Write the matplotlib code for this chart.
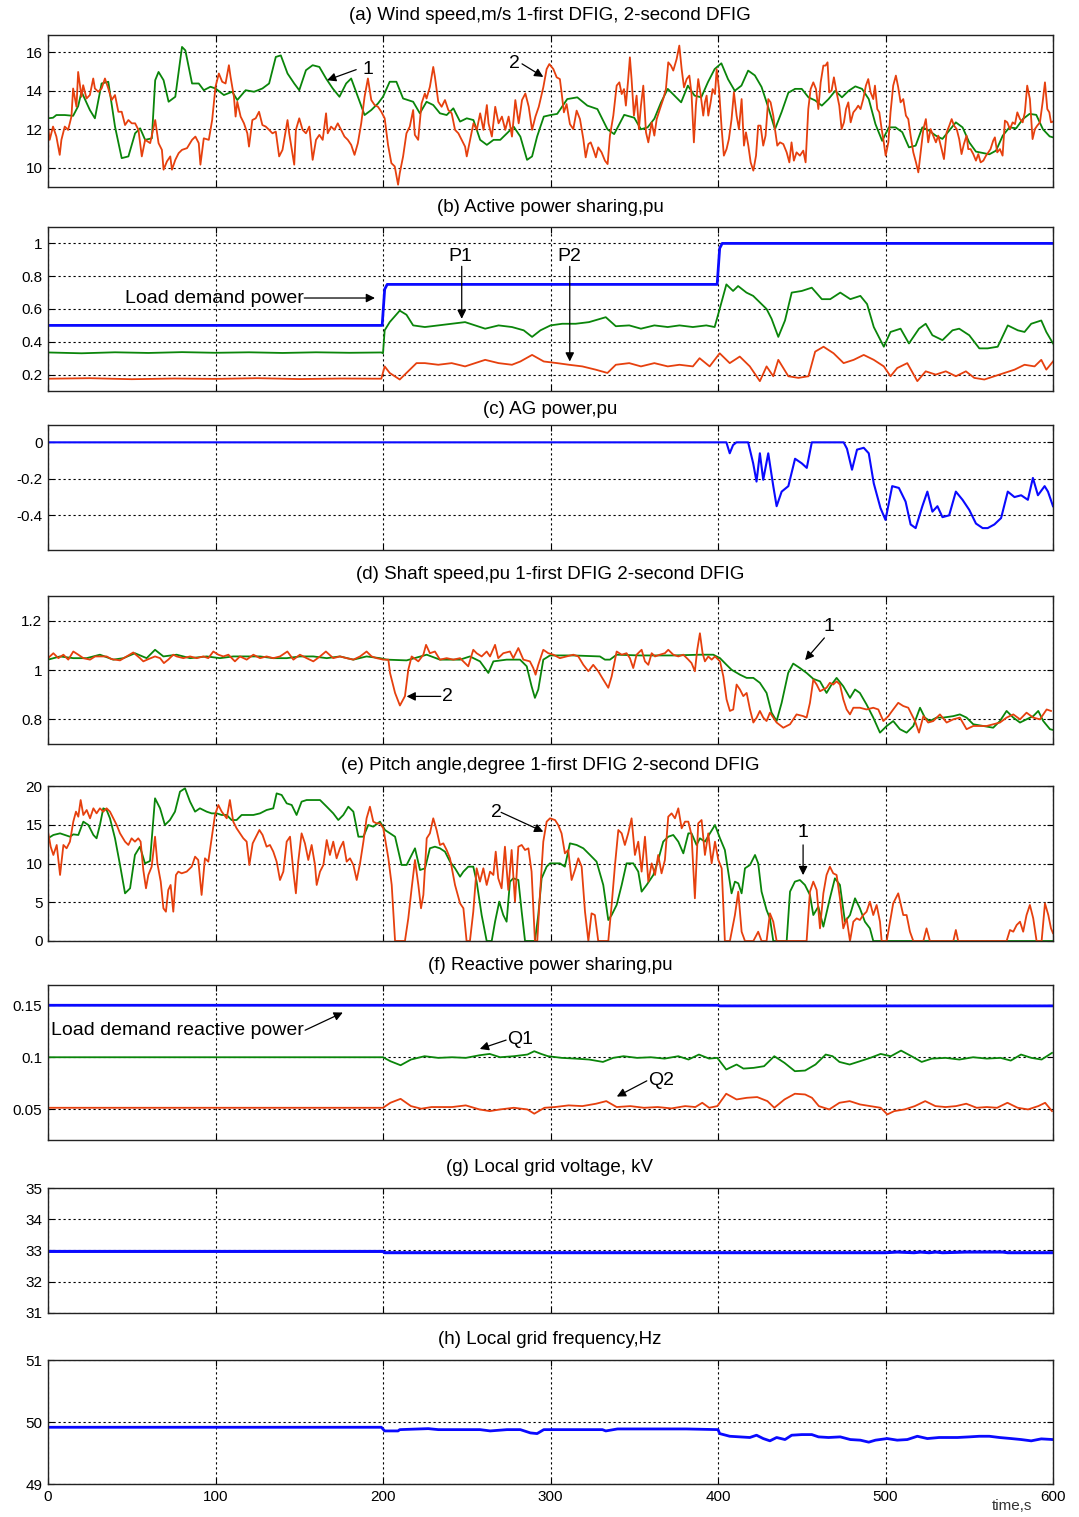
import matplotlib
matplotlib.use('Agg')
import matplotlib.pyplot as plt
import numpy as np

plt.rcParams['font.family'] = ['Liberation Sans', 'DejaVu Sans']

# ---------------- (a) wind speed ----------------
wind1_t = [0,3,5,10,15,18,20,25,28,32,36,40,44,48,52,55,58,62,64,66,69,72,76,80,82,86,90,93,97,100,
           105,110,113,118,123,128,132,136,139,143,147,150,154,158,162,166,170,174,178,181,185,189,193,197,200,
           204,208,212,218,222,226,230,234,238,242,246,250,254,258,262,266,270,274,278,282,286,289,292,296,300,
           304,310,316,322,328,334,338,344,350,354,358,362,366,370,374,378,382,386,390,394,398,402,406,410,414,
           418,422,426,430,434,438,442,446,450,454,458,462,466,470,474,478,482,486,490,494,498,502,506,510,514,
           518,522,526,530,534,538,542,546,550,554,558,562,566,570,574,578,582,586,590,594,598,600]
wind1_v = [12.57,12.6,12.74,12.74,12.7,13.2,13.95,13.0,12.57,14.38,14.47,12.14,10.5,10.59,11.79,12.05,11.45,11.53,14.55,14.98,
           14.55,13.43,13.69,16.28,16.1,14.38,14.38,14.03,14.21,14.12,
           13.78,13.95,13.52,14.03,13.95,14.12,14.38,15.76,15.84,14.9,14.38,14.03,15.07,15.33,15.24,14.64,14.12,13.69,14.38,14.64,
           13.69,12.74,13.0,13.34,13.69,
           14.47,14.47,13.6,13.43,12.83,13.43,13.26,12.83,12.74,13.09,12.4,12.57,12.48,11.45,11.19,11.45,11.45,11.79,12.14,11.62,
           10.41,10.59,11.62,12.66,12.74,
           12.8,13.57,13.66,13.23,13.05,12.0,11.75,12.75,12.6,12.0,12.1,12.55,13.4,14.1,13.75,13.4,14.27,13.75,13.66,14.45,
           15.13,15.43,14.6,14.0,14.27,
           15.05,14.8,14.2,13.14,12.0,12.9,13.9,14.1,14.1,13.66,13.5,13.23,13.57,14.0,13.66,14.0,14.23,14.1,13.57,12.27,
           11.4,12.1,12.1,11.85,11.06,
           11.15,12.1,11.93,11.67,11.5,11.93,12.36,12.1,11.32,10.84,10.77,10.7,10.89,11.67,12.1,12.05,12.53,12.8,12.75,12.0,
           11.63,11.58]

wind2_t = [0,1,3,5,7,8,10,12,14,15,17,18,20,21,23,25,27,28,30,32,34,36,38,40,42,44,46,48,50,52,54,56,58,61,64,66,68,69,
           71,73,74,76,78,80,83,86,88,90,91,93,96,98,100,102,104,106,108,109,111,112,113,115,117,119,120,122,124,126,128,
           130,132,134,136,138,140,143,144,147,148,150,152,154,156,158,160,162,164,166,167,169,171,173,175,177,179,181,
           183,185,187,189,191,193,195,197,199,201,203,205,207,209,210,212,214,216,218,219,221,223,225,226,228,230,231,
           233,235,237,239,241,243,245,247,249,250,252,254,256,258,260,262,263,265,267,269,271,273,275,277,279,281,283,
           285,287,289,291,293,
           295.7,297.7,299.3,301.7,303.7,305.6,306.6,308.0,309.6,311.6,313.6,315.6,317.6,319.6,321.0,322.6,324.0,325.5,
           327.1,328.5,330.5,332.5,334.1,335.5,337.5,339.5,341.1,342.5,343.9,345.0,346.4,347.4,348.4,349.8,351.4,352.8,
           354.0,355.4,357.0,358.4,360.4,362.0,363.4,365.3,367.3,368.9,370.3,371.9,373.3,375.3,376.9,378.3,379.7,381.3,
           382.9,384.2,385.6,386.8,388.2,389.6,391.2,392.2,393.2,394.2,395.6,396.8,398.2,399.2,400.6,402.2,403.5,405.1,
           406.5,408.1,409.5,411.1,412.5,414.1,415.5,416.7,418.1,419.5,421.1,422.7,424.0,425.4,427.0,428.4,430.0,431.4,
           433.0,434.0,435.4,437.0,439.0,441.0,442.6,443.9,445.3,446.9,448.9,450.9,452.3,453.9,455.3,456.9,458.5,459.9,
           461.3,462.9,464.2,465.4,466.4,467.8,469.2,470.8,472.4,473.8,475.2,476.4,477.8,479.2,480.8,482.4,483.7,485.1,
           486.7,488.3,489.7,491.1,492.7,493.7,495.1,496.3,497.7,498.7,500.1,501.7,503.0,504.6,506.2,507.6,509.0,510.6,
           512.2,513.6,515.0,516.6,518.2,519.6,521.0,522.6,524.1,525.5,526.9,528.5,530.1,531.5,533.5,534.9,536.5,538.1,
           539.5,540.9,542.5,544.0,545.4,546.8,548.4,549.4,550.8,552.4,554.0,555.4,556.8,558.4,560.0,561.4,562.7,564.3,
           565.3,566.7,568.3,569.9,571.3,572.7,574.3,575.9,577.3,578.7,580.3,581.9,583.2,584.6,586.2,587.8,589.2,590.6,
           592.2,593.8,595.2,596.6,597.8,598.8,600]
wind2_v = [12.14,11.45,12.14,11.62,10.67,11.45,12.14,11.97,12.66,14.12,13.17,14.98,13.69,14.29,13.6,13.78,14.64,14.12,13.95,
           14.12,14.64,14.12,13.52,13.78,12.91,12.91,12.22,12.48,12.31,12.31,11.97,10.59,11.45,11.28,12.48,11.28,10.93,9.9,
           10.33,10.59,9.9,10.41,10.76,10.93,11.02,11.45,11.62,11.28,10.16,11.53,11.45,12.48,14.21,14.9,14.47,14.38,15.33,
           14.72,13.69,12.66,13.43,12.66,12.31,11.79,11.1,12.48,12.57,12.91,12.22,12.14,11.97,11.79,11.88,10.59,10.93,12.48,
           11.79,10.16,11.97,12.57,11.97,11.79,12.14,10.41,11.45,11.71,11.45,12.83,11.79,12.14,11.97,12.31,11.97,11.62,11.45,
           11.19,10.67,11.28,12.31,13.69,14.64,13.52,13.26,13.17,12.91,12.57,11.19,10.24,10.07,9.12,9.72,10.59,11.79,12.14,
           13.0,11.71,11.45,13.34,13.86,13.6,14.21,15.24,14.72,13.43,13.17,13.52,13.0,12.83,11.97,11.79,11.45,11.1,10.59,
           11.45,12.31,11.97,12.83,11.97,13.26,12.31,11.62,13.17,12.31,12.66,11.97,12.66,11.62,13.52,12.31,13.52,13.86,13.17,
           11.97,12.66,13.17,
           14.18,15.13,15.39,15.13,14.70,14.61,13.92,12.88,13.31,12.27,12.01,12.97,12.53,11.49,10.54,11.23,11.32,10.97,
           10.54,11.06,10.80,10.37,10.19,11.67,12.71,14.27,14.44,13.83,14.09,13.23,14.61,15.74,14.61,12.71,13.75,12.01,
           13.23,14.27,11.84,11.32,12.36,11.67,12.53,13.05,13.57,14.09,15.48,15.31,15.05,15.65,16.35,15.13,14.18,14.61,
           14.79,13.83,11.32,13.23,14.61,13.83,12.71,13.40,13.75,12.71,13.40,14.09,13.83,15.13,14.09,12.01,10.63,10.97,
           11.49,12.53,13.92,12.71,12.01,13.57,11.15,11.84,11.15,10.28,9.85,10.63,12.19,12.19,11.15,11.67,13.57,13.40,
           12.71,12.01,11.15,11.32,11.23,10.80,10.28,11.32,10.37,10.80,10.63,10.89,10.28,13.05,14.09,14.44,14.09,13.05,
           14.44,15.31,15.31,15.48,13.92,14.01,14.70,13.92,13.23,12.01,12.36,13.05,13.40,12.36,12.88,13.05,13.23,13.05,
           13.57,14.27,14.61,13.92,13.57,14.27,13.05,12.88,12.01,11.49,10.63,11.32,12.88,14.27,14.79,14.18,13.40,13.57,
           12.71,12.53,11.67,10.80,10.28,9.76,10.80,12.01,12.53,11.32,12.01,11.67,11.32,11.67,10.97,10.45,11.84,12.19,
           12.53,12.19,12.01,11.49,10.71,11.23,11.67,10.97,10.97,10.71,10.37,10.71,10.28,10.37,10.63,10.80,10.97,11.41,
           11.58,10.80,10.97,10.63,12.45,12.36,12.01,12.36,12.27,12.88,12.53,12.36,12.88,14.27,13.57,11.49,12.01,12.19,
           12.36,13.40,14.44,13.05,12.88,12.36,12.4]

# ---------------- (b) active power ----------------
load_p_t = [0,199.5,201,202.5,399.5,401,402.5,600]
load_p_v = [0.5,0.5,0.72,0.75,0.75,0.97,1.0,1.0]
p1_t = [0,20,40,60,80,100,120,140,160,180,199,200,201,204,210,214,218,225,233,241,249,255,261,269,277,284,289,294,300,307,
        315,323,333,339,347,354,362,370,377,385,393,398,401,405,409,412,417,421,425,429,432,436,440,444,450,456,462,467,
        473,479,485,489,493,499,503,509,514,520,524,528,534,540,544,550,556,561,567,573,579,583,587,593,596,600]
p1_v = [0.335,0.33,0.336,0.332,0.337,0.333,0.336,0.332,0.336,0.333,0.335,0.33,0.47,0.52,0.59,0.565,0.50,0.49,0.50,0.51,0.52,
        0.50,0.48,0.50,0.49,0.47,0.43,0.47,0.50,0.51,0.51,0.52,0.55,0.495,0.50,0.48,0.50,0.49,0.50,0.49,0.50,0.49,0.60,0.75,
        0.71,0.74,0.70,0.68,0.64,0.60,0.54,0.43,0.53,0.70,0.71,0.73,0.66,0.66,0.70,0.66,0.68,0.63,0.49,0.37,0.46,0.48,0.39,
        0.48,0.51,0.44,0.41,0.47,0.48,0.44,0.36,0.36,0.37,0.50,0.47,0.46,0.51,0.53,0.46,0.39]
p2_t = [0,25,50,75,100,125,150,175,199,201,204,210,214,220,225,233,241,249,255,261,269,277,282,289,296,304,311,319,327,334,
        339,347,354,362,370,377,385,389,395,401,407,413,419,425,429,433,436,442,448,454,458,463,469,475,481,487,493,499,
        503,507,513,519,524,530,536,542,548,553,559,565,571,577,583,589,593,596,600]
p2_v = [0.175,0.178,0.172,0.176,0.174,0.178,0.173,0.176,0.175,0.25,0.21,0.17,0.21,0.27,0.27,0.26,0.27,0.25,0.27,0.29,0.27,
        0.26,0.28,0.32,0.28,0.27,0.26,0.25,0.23,0.21,0.26,0.27,0.25,0.27,0.25,0.26,0.25,0.30,0.25,0.33,0.27,0.31,0.25,0.16,
        0.25,0.19,0.29,0.19,0.18,0.19,0.34,0.37,0.33,0.27,0.29,0.32,0.29,0.25,0.19,0.24,0.27,0.16,0.22,0.20,0.22,0.19,0.22,
        0.18,0.17,0.19,0.21,0.23,0.26,0.25,0.29,0.23,0.28]

# ---------------- (c) AG power ----------------
ag_t = [0,400,405,407,409,411,418,421,423,425,427,430,433,435,438,442,446,450,453,456,464,475,477,480,483,487,490,493,497,
        500,504,508,512,515,518,522,525,528,531,534,538,542,546,550,554,558,561,565,569,573,577,581,585,588,591,595,597,600]
ag_v = [0,0,0,-0.06,-0.015,0,0,-0.115,-0.215,-0.06,-0.205,-0.06,-0.24,-0.35,-0.27,-0.24,-0.09,-0.115,-0.14,0,0,0,-0.035,
        -0.15,-0.04,-0.03,-0.06,-0.225,-0.36,-0.425,-0.24,-0.25,-0.325,-0.45,-0.47,-0.35,-0.27,-0.38,-0.35,-0.41,-0.40,-0.27,
        -0.315,-0.37,-0.445,-0.47,-0.47,-0.45,-0.415,-0.27,-0.30,-0.29,-0.315,-0.195,-0.29,-0.24,-0.27,-0.35]

# ---------------- (d) shaft speed ----------------
w1_t = [0,7.2,15.1,23.1,31.0,39.0,45.0,51.9,58.9,63.9,68.9,76.8,84.8,94.7,102.7,110.6,118.6,126.6,134.5,142.5,150.4,158.4,
        166.4,174.3,182.3,190.2,198.2,202.2,214.1,226.1,234.0,246.0,251.9,257.9,262.9,265.9,273.8,281.8,285.8,288.7,290.7,
        292.7,295.7,299.7,313.6,329.5,332.5,335.5,339.5,353.4,373.3,389.2,397.2,401.2,405.1,408.1,413.1,417.1,421.1,425.0,
        429.0,432.0,435.0,438.0,441.9,444.9,448.9,452.9,456.9,460.9,464.8,467.8,470.8,474.8,478.8,481.8,484.7,488.7,492.7,
        496.7,500.7,504.6,508.6,512.6,516.6,520.6,523.5,526.5,530.5,534.5,540.5,544.4,548.4,552.4,558.4,564.3,568.3,572.3,
        576.3,580.3,584.2,588.2,591.2,594.2,598.2,600]
w1_v = [1.042,1.055,1.048,1.048,1.062,1.042,1.048,1.068,1.048,1.082,1.055,1.062,1.048,1.055,1.048,1.055,1.055,1.055,1.048,
        1.048,1.055,1.055,1.048,1.055,1.042,1.055,1.048,1.042,1.039,1.062,1.042,1.042,1.055,1.035,0.988,1.035,1.042,1.042,
        1.015,0.934,0.887,0.921,1.042,1.059,1.059,1.055,1.042,1.042,1.062,1.059,1.059,1.062,1.062,1.048,1.021,1.001,0.981,
        0.968,0.968,0.948,0.907,0.827,0.793,0.867,0.988,1.026,1.008,0.988,0.964,0.954,0.907,0.941,0.968,0.934,0.887,0.921,
        0.907,0.860,0.807,0.746,0.773,0.793,0.760,0.746,0.773,0.847,0.807,0.793,0.807,0.807,0.813,0.820,0.807,0.780,0.773,
        0.766,0.793,0.834,0.807,0.787,0.800,0.813,0.834,0.793,0.760,0.757]
w2_t = [0,3.2,6.2,9.2,12.1,15.1,18.1,21.1,25.1,28.1,31.0,35.0,38.0,43.0,47.0,50.9,54.9,56.9,59.9,63.9,66.9,69.2,71.8,74.8,
        76.8,80.8,84.8,88.8,92.7,95.7,98.7,101.7,104.7,107.7,111.6,114.6,118.6,122.6,126.6,130.5,134.5,138.5,142.9,146.5,
        150.4,154.4,158.4,162.4,165.9,170.3,174.3,178.3,182.3,186.3,190.2,193.2,196.2,200.2,203.2,204.2,207.2,210.1,213.1,
        215.1,217.1,221.1,224.1,225.7,228.0,231.0,234.0,238.0,242.0,246.0,250.9,253.9,255.9,258.9,261.9,263.9,266.9,268.8,
        271.8,275.8,277.8,280.8,283.8,287.7,289.7,291.1,292.7,295.7,298.7,301.7,305.6,309.6,313.6,316.6,319.6,322.6,325.5,
        328.5,331.5,334.5,336.5,339.5,342.5,345.4,347.4,349.4,351.4,354.4,356.4,358.4,360.4,362.4,365.3,368.3,370.3,373.3,
        376.3,379.3,382.3,384.2,386.2,387.6,389.2,390.8,392.2,394.2,396.2,398.2,401.2,403.2,405.1,407.1,409.1,411.1,413.1,
        415.1,417.1,419.1,421.1,423.1,425.0,427.0,429.0,431.0,435.0,439.0,443.0,446.9,450.9,452.9,454.9,456.9,458.9,460.9,
        462.9,464.8,466.8,468.8,470.8,472.8,474.8,476.8,478.8,480.8,484.7,488.7,492.7,495.7,498.7,501.7,504.6,507.6,510.6,
        513.6,515.6,517.6,520.0,522.6,525.5,528.5,532.5,536.5,540.5,544.4,548.4,552.4,556.4,560.4,564.3,568.3,572.3,576.3,
        580.3,584.2,588.2,592.2,596.2,598.8]
w2_v = [1.048,1.068,1.048,1.062,1.042,1.075,1.062,1.048,1.042,1.055,1.055,1.055,1.044,1.039,1.055,1.071,1.048,1.035,1.044,
        1.055,1.048,1.028,1.042,1.062,1.055,1.048,1.055,1.048,1.055,1.048,1.075,1.062,1.055,1.062,1.035,1.055,1.042,1.062,
        1.048,1.055,1.048,1.055,1.075,1.042,1.062,1.048,1.035,1.055,1.075,1.048,1.055,1.048,1.042,1.055,1.075,1.055,1.048,
        1.042,1.042,0.988,0.907,0.856,0.894,1.001,1.055,1.035,1.062,1.102,1.068,1.075,1.042,1.048,1.042,1.048,1.015,1.082,
        1.068,1.055,1.075,1.055,1.102,1.048,1.068,1.075,1.048,1.089,1.042,1.035,1.008,0.981,1.021,1.082,1.068,1.062,1.048,
        1.055,1.062,1.055,1.021,0.995,1.021,0.995,0.961,0.928,0.974,1.075,1.062,1.068,1.048,1.008,1.062,1.082,1.035,1.021,
        1.068,1.055,1.062,1.068,1.082,1.062,1.055,1.062,1.042,1.028,0.995,1.082,1.149,1.068,1.035,1.055,1.042,1.055,1.035,
        0.974,0.881,0.834,0.840,0.941,0.921,0.894,0.907,0.840,0.787,0.807,0.834,0.807,0.793,0.827,0.787,0.766,0.780,0.820,
        0.813,0.807,0.867,0.961,0.941,0.914,0.921,0.928,0.948,0.941,0.954,0.941,0.881,0.840,0.820,0.847,0.847,0.840,0.847,
        0.840,0.793,0.813,0.840,0.867,0.854,0.847,0.820,0.793,0.746,0.813,0.787,0.793,0.820,0.787,0.800,0.807,0.760,0.773,
        0.773,0.773,0.780,0.787,0.807,0.820,0.800,0.827,0.807,0.800,0.840,0.834]

# ---------------- (e) pitch angle ----------------
b1_t = [0,3.2,7.2,10.1,13.1,15.1,18.1,21.1,24.1,27.1,29.0,31.0,33.0,35.0,37.0,40.0,43.0,46.0,49.0,51.9,54.9,57.9,60.9,63.9,
        66.9,69.8,72.8,75.8,78.8,81.8,84.8,87.8,90.7,94.7,97.7,100.7,103.7,106.7,109.6,112.6,115.6,118.6,122.6,126.6,130.5,
        134.5,136.5,139.5,142.5,145.5,148.4,151.4,154.4,158.4,162.4,166.4,170.3,173.3,176.3,179.3,182.3,185.3,188.3,191.2,
        194.2,198.2,201.2,204.2,207.2,211.1,214.1,217.1,219.1,222.1,225.1,228.0,231.0,234.0,237.0,240.0,243.0,246.0,248.0,
        250.9,253.9,255.9,258.9,261.9,264.9,266.9,269.4,271.8,273.8,275.8,277.8,280.8,282.8,284.8,290.7,292.7,294.7,297.7,
        299.7,305.6,308.6,311.6,315.6,319.6,323.6,327.5,331.5,334.5,336.5,339.5,342.5,345.4,349.4,352.4,354.4,357.4,361.4,
        364.3,367.3,370.3,373.3,376.3,379.3,382.3,384.2,387.2,389.2,392.2,395.2,398.2,401.2,404.1,406.1,408.1,410.1,412.1,
        414.1,416.1,419.1,422.1,424.0,426.0,429.0,431.0,433.0,441.0,443.0,445.9,448.9,451.9,454.9,456.9,459.9,462.9,466.8,
        469.8,472.8,475.8,478.8,481.8,484.7,487.7,490.7,492.7,600]
b1_v = [13.25,13.68,13.89,13.68,13.46,13.76,13.68,15.40,14.97,13.68,13.25,14.97,17.12,16.90,15.83,13.25,9.81,6.15,6.80,11.10,
        12.17,10.02,10.32,18.41,17.12,14.97,15.61,16.69,19.27,19.70,17.98,16.69,17.12,16.69,16.47,16.47,16.26,16.26,15.61,
        15.61,16.26,16.26,16.26,16.47,16.90,17.12,19.05,18.84,17.76,17.55,16.26,17.98,18.19,18.19,18.19,17.33,16.47,15.61,
        16.26,17.33,16.69,13.46,13.46,14.97,14.75,15.40,14.32,13.89,13.46,9.81,9.81,11.10,11.96,9.16,9.38,11.96,12.17,11.96,
        11.53,10.24,9.38,8.30,8.95,9.59,9.59,7.66,3.35,0,0,2.49,5.08,3.35,2.49,7.66,8.09,7.87,3.78,0,0,3.35,8.09,9.59,10.02,
        10.02,9.59,12.60,12.39,11.96,11.10,10.24,7.23,2.71,3.35,4.65,7.23,10.02,10.02,8.95,6.37,7.23,8.52,10.45,12.82,13.46,
        13.68,12.82,11.31,13.89,13.89,12.39,13.25,12.82,13.89,14.97,13.25,11.74,8.95,6.15,7.66,7.44,6.15,9.38,9.81,11.10,
        10.02,6.37,4.00,2.92,0,0,6.37,7.66,7.87,7.23,5.94,3.35,4.43,1.85,5.51,8.09,7.23,2.49,3.35,5.51,4.22,2.49,1.63,0,0]
b2_t = [0,1.6,3.2,5.2,7.2,9.2,11.1,13.1,15.1,16.7,18.1,19.5,21.1,23.1,25.1,27.1,29.0,31.0,33.0,35.0,37.0,39.0,41.0,43.0,
        46.0,48.0,49.9,51.9,53.9,55.3,56.9,58.5,59.9,61.9,63.9,65.3,67.3,68.9,70.4,71.8,73.2,74.8,76.4,77.8,79.8,82.8,85.8,
        87.8,89.7,91.7,93.7,95.7,97.7,99.7,101.7,103.7,106.7,108.6,110.6,112.6,114.6,116.6,118.6,120.2,122.2,124.2,126.2,
        128.1,130.5,132.5,134.5,136.5,138.5,140.5,142.5,144.5,146.5,148.0,149.4,151.4,153.4,155.4,157.4,159.4,160.4,162.4,
        164.4,166.4,168.3,170.3,172.3,174.3,176.3,178.3,180.3,182.3,184.3,186.3,188.3,190.2,192.2,194.2,196.2,198.2,200.2,
        203.2,205.2,207.2,213.1,215.1,217.1,219.1,221.1,222.7,224.1,226.1,228.0,230.0,232.0,234.0,236.0,238.0,240.0,243.0,
        246.0,248.0,249.9,251.9,253.9,255.9,257.9,259.9,261.9,263.9,265.9,267.3,268.8,270.8,272.8,274.8,276.8,278.8,280.8,
        282.8,284.8,286.8,288.7,290.7,292.1,293.7,295.7,297.7,299.7,302.7,304.6,306.6,308.6,310.6,312.6,314.6,316.6,318.6,
        320.6,322.6,324.5,326.5,328.5,334.5,336.5,338.5,340.5,342.5,344.4,346.4,348.4,350.4,352.4,354.4,356.4,358.4,360.4,
        362.4,364.3,366.3,368.3,370.3,372.3,374.3,376.3,378.3,380.3,382.3,384.2,386.2,388.2,390.2,392.2,394.2,396.2,398.2,
        400.2,402.2,404.1,407.1,410.1,412.1,414.1,416.1,421.1,424.0,426.0,429.0,431.0,433.0,435.0,452.9,454.9,456.9,458.9,
        460.9,462.9,464.8,466.8,468.8,470.8,472.8,474.8,476.8,478.8,480.8,482.8,484.7,486.7,488.7,490.7,492.7,494.7,496.7,
        497.7,500.7,504.6,507.6,510.6,512.6,514.6,516.6,522.6,524.5,526.5,540.5,542.0,543.4,572.3,574.3,576.3,578.3,580.3,
        582.2,584.2,586.2,588.2,590.2,593.2,595.2,597.2,598.8,600]
b2_v = [14.11,12.17,11.10,12.39,8.52,12.39,11.96,12.82,15.40,16.69,16.04,18.19,16.26,16.90,15.83,17.12,16.47,17.12,16.69,
        17.12,16.69,15.83,14.97,13.89,12.82,12.39,13.25,12.82,13.25,12.82,9.16,6.80,8.52,9.59,13.46,10.02,7.66,4.22,3.78,
        6.58,7.23,3.78,8.52,8.95,8.73,8.95,9.59,10.88,10.45,5.94,10.67,10.24,13.25,16.26,17.55,16.69,15.83,18.19,15.40,14.54,
        13.89,13.25,12.82,9.81,12.60,13.46,14.32,13.68,12.17,12.39,11.53,10.24,7.87,8.95,12.82,13.46,8.95,6.15,10.24,13.89,
        12.60,10.45,12.39,9.81,7.23,8.95,9.81,13.03,11.10,12.82,10.67,11.96,12.82,10.24,10.67,9.81,7.87,10.02,12.82,15.83,
        17.33,15.40,15.18,15.18,14.54,10.67,7.23,0,0,2.92,6.80,10.45,7.23,4.22,5.94,13.25,13.89,15.83,14.32,12.39,12.60,11.74,
        10.67,7.23,4.86,4.22,0,0,3.78,9.38,7.66,9.38,7.23,8.95,8.52,11.53,8.09,6.80,12.17,6.58,11.74,5.08,12.17,12.39,11.74,
        11.96,8.95,0,0,5.94,12.82,15.40,15.83,15.61,14.97,13.89,11.31,11.74,7.87,9.16,10.67,9.59,3.78,0,3.57,3.35,0,0,4.65,
        9.81,14.32,13.89,12.39,13.89,15.83,11.10,12.82,8.95,13.46,7.66,10.02,8.52,11.10,8.73,10.45,16.04,16.47,15.83,17.12,
        14.54,15.40,15.40,13.68,5.51,15.18,15.61,11.10,13.89,10.02,12.82,10.45,9.38,0,0,3.35,6.37,1.20,0,0,1.20,0,0,3.57,
        2.49,0,0,6.37,7.66,6.58,1.63,6.15,8.52,9.59,8.73,8.52,5.51,1.63,2.92,0,2.49,2.92,2.71,3.35,3.78,5.08,3.35,4.65,2.49,
        0,0,4.86,6.15,3.35,3.35,1.20,0,0,1.63,0,0,1.42,0,0,1.42,1.20,2.06,2.49,1.20,3.35,4.65,2.92,0,0,4.86,3.35,1.63,1.0]

# ---------------- (f) reactive power ----------------
load_q_t = [0,400,401,600]
load_q_v = [0.15,0.15,0.1494,0.1494]
q1_t = [0,200,204.4,210.5,216.7,224.8,233,241.2,249.4,257.6,263.7,269.9,278.1,286.2,290.3,294.4,298.5,306.7,314.9,323.1,
        331.3,337.4,343.6,351.7,359.9,368.1,376.3,382.4,388.6,394.7,399.6,404.9,411.1,415.2,421.3,427.5,433.6,439.7,445.9,
        452,458.2,464.3,468.4,472.5,478.6,484.8,490.9,497.1,503.2,509.3,515.5,521.6,527.7,535.9,544.1,552.3,560.5,568.7,
        574.8,580.9,587.1,593.2,599.4]
q1_v = [0.1,0.1,0.0962,0.0923,0.0978,0.101,0.0994,0.1,0.0994,0.1019,0.1032,0.1,0.101,0.1026,0.1058,0.1032,0.101,0.0994,
        0.0987,0.0978,0.0955,0.0994,0.101,0.0994,0.1,0.0987,0.101,0.0978,0.1026,0.0987,0.0994,0.0882,0.093,0.0891,0.0898,
        0.0914,0.101,0.0946,0.0866,0.0872,0.093,0.1026,0.101,0.0955,0.093,0.0962,0.0994,0.1032,0.101,0.1064,0.101,0.0955,
        0.0987,0.0994,0.0978,0.1,0.0987,0.0994,0.0968,0.1026,0.0994,0.0978,0.1042]
q2_t = [0,200,204.4,210.5,216.7,222.8,229,241.2,249.4,257.6,263.7,269.9,278.1,286.2,290.3,296.4,302.6,310.8,319,327.2,
        333.3,339.5,347.7,355.8,364,372.2,380.4,386.5,390.6,394.7,399.6,404.9,411.1,417.2,423.4,429.5,433.6,439.7,445.9,
        452,456.1,460.2,466.4,472.5,478.6,484.8,490.9,497.1,501.1,505.2,511.4,517.5,523.7,529.8,535.9,542.1,548.2,554.4,
        560.5,566.6,572.8,578.9,585.1,591.2,595.3,599.4]
q2_v = [0.0514,0.0514,0.0562,0.06,0.053,0.0505,0.0521,0.0521,0.0537,0.0498,0.0482,0.0498,0.0514,0.0498,0.0457,0.0514,
        0.0521,0.0537,0.053,0.0553,0.0578,0.0521,0.053,0.0514,0.0521,0.0508,0.053,0.0521,0.0562,0.0514,0.053,0.0649,0.0594,
        0.061,0.0617,0.0578,0.0514,0.0594,0.0649,0.0642,0.061,0.053,0.0498,0.0562,0.0578,0.0546,0.053,0.0514,0.045,0.0482,
        0.0498,0.053,0.0578,0.053,0.0521,0.053,0.0553,0.0514,0.0521,0.0514,0.0562,0.0514,0.0498,0.053,0.0562,0.0482]

# ---------------- (g) voltage ----------------
volt_t = [0,200,201,500,507,517,521,526,530,534,548,570,573,600]
volt_v = [32.97,32.97,32.93,32.93,32.95,32.93,32.95,32.93,32.95,32.93,32.95,32.95,32.93,32.93]

# ---------------- (h) frequency ----------------
freq_t = [0,199,201,209,210,227,233,258,264,274,282,288,292,296,331,333,340,381,400,401,407,413,419,423,427,431,435,440,
          444,450,456,460,466,473,479,485,490,494,501,507,513,519,525,532,538,543,550,556,562,568,575,581,587,593,600]
freq_v = [49.915,49.915,49.856,49.856,49.877,49.893,49.877,49.877,49.856,49.877,49.877,49.824,49.813,49.877,49.877,49.856,
          49.888,49.888,49.877,49.813,49.77,49.76,49.75,49.787,49.733,49.696,49.75,49.717,49.787,49.797,49.797,49.76,49.75,
          49.76,49.717,49.707,49.675,49.707,49.733,49.707,49.717,49.77,49.733,49.75,49.75,49.75,49.76,49.77,49.77,49.75,
          49.733,49.717,49.696,49.728,49.717]

x_ticks = [0, 100, 200, 300, 400, 500, 600]

GREEN = '#0a850a'
RED = '#e6400e'
BLUE = '#0a0aff'

W, H = 1079, 1517
fig = plt.figure(figsize=(W / 100, H / 100), dpi=100)


def add_ax(top, bottom, ylim, yticks, ylabels, title, title_y, last=False):
    ax = fig.add_axes([48 / W, 1 - bottom / H, (1053 - 48) / W, (bottom - top) / H])
    ax.set_xlim(0, 600)
    ax.set_ylim(*ylim)
    ax.set_xticks(x_ticks)
    ax.set_yticks(yticks)
    ax.set_yticklabels(ylabels)
    if last:
        ax.set_xticklabels([str(v) for v in x_ticks])
    else:
        ax.set_xticklabels([])
    ax.tick_params(direction='in', length=4, width=0.8, top=True, right=True,
                   labelsize=11, pad=4, colors='black')
    ax.grid(True, color='black', linestyle=(0, (2, 2.5)), linewidth=0.8)
    for s in ax.spines.values():
        s.set_linewidth(1.0)
        s.set_color('#222222')
    fig.text(550 / W, 1 - title_y / H, title, ha='center', va='center', fontsize=13.5)
    return ax


arrow_kw = dict(arrowstyle='-|>', color='black', lw=0.9, mutation_scale=13, shrinkA=0, shrinkB=0)

# (a)
ax = add_ax(35, 187, (9, 16.9), [10, 12, 14, 16], ['10', '12', '14', '16'],
            '(a) Wind speed,m/s 1-first DFIG, 2-second DFIG', 15)
ax.plot(wind1_t, wind1_v, color=GREEN, lw=1.3)
ax.plot(wind2_t, wind2_v, color=RED, lw=1.3)
ax.annotate('', xy=(166.6, 14.55), xytext=(184, 15.1), arrowprops=arrow_kw)
ax.text(188, 15.1, '1', fontsize=14, va='center', ha='left')
ax.annotate('', xy=(295.7, 14.72), xytext=(283, 15.4), arrowprops=arrow_kw)
ax.text(282, 15.4, '2', fontsize=14, va='center', ha='right')

# (b)
ax = add_ax(227, 391, (0.1, 1.1), [0.2, 0.4, 0.6, 0.8, 1.0], ['0.2', '0.4', '0.6', '0.8', '1'],
            '(b) Active power sharing,pu', 207)
ax.plot(load_p_t, load_p_v, color=BLUE, lw=2.0)
ax.plot(p1_t, p1_v, color=GREEN, lw=1.3)
ax.plot(p2_t, p2_v, color=RED, lw=1.3)
ax.annotate('', xy=(195.2, 0.667), xytext=(153, 0.667), arrowprops=arrow_kw)
ax.text(152.5, 0.667, 'Load demand power', fontsize=14, va='center', ha='right')
ax.annotate('', xy=(247, 0.54), xytext=(247, 0.86), arrowprops=arrow_kw)
ax.text(246, 0.92, 'P1', fontsize=14, va='center', ha='center')
ax.annotate('', xy=(311.5, 0.28), xytext=(311.5, 0.86), arrowprops=arrow_kw)
ax.text(311.5, 0.92, 'P2', fontsize=14, va='center', ha='center')

# (c)
ax = add_ax(425, 550, (-0.59, 0.095), [-0.4, -0.2, 0], ['-0.4', '-0.2', '0'],
            '(c) AG power,pu', 409)
ax.plot(ag_t, ag_v, color=BLUE, lw=1.5)

# (d)
ax = add_ax(596, 744, (0.7, 1.3), [0.8, 1.0, 1.2], ['0.8', '1', '1.2'],
            '(d) Shaft speed,pu 1-first DFIG 2-second DFIG', 575)
ax.plot(w1_t, w1_v, color=GREEN, lw=1.3)
ax.plot(w2_t, w2_v, color=RED, lw=1.3)
ax.annotate('', xy=(452, 1.04), xytext=(463.5, 1.13), arrowprops=arrow_kw)
ax.text(466.3, 1.175, '1', fontsize=14, va='center', ha='center')
ax.annotate('', xy=(214.1, 0.893), xytext=(234.5, 0.893), arrowprops=arrow_kw)
ax.text(235.5, 0.893, '2', fontsize=14, va='center', ha='left')

# (e)
ax = add_ax(786, 941, (0, 20), [0, 5, 10, 15, 20], ['0', '5', '10', '15', '20'],
            '(e) Pitch angle,degree 1-first DFIG 2-second DFIG', 765)
ax.plot(b1_t, b1_v, color=GREEN, lw=1.3)
ax.plot(b2_t, b2_v, color=RED, lw=1.3)
ax.annotate('', xy=(295.7, 14.1), xytext=(270.5, 16.6), arrowprops=arrow_kw)
ax.text(267.5, 16.6, '2', fontsize=14, va='center', ha='center')
ax.annotate('', xy=(450.8, 8.5), xytext=(450.8, 12.4), arrowprops=arrow_kw)
ax.text(450.5, 14.0, '1', fontsize=14, va='center', ha='center')

# (f)
ax = add_ax(985, 1140, (0.0204, 0.1695), [0.05, 0.1, 0.15], ['0.05', '0.1', '0.15'],
            '(f) Reactive power sharing,pu', 965)
ax.plot(load_q_t, load_q_v, color=BLUE, lw=2.0)
ax.plot(q1_t, q1_v, color=GREEN, lw=1.3)
ax.plot(q2_t, q2_v, color=RED, lw=1.3)
ax.annotate('', xy=(176, 0.143), xytext=(153.5, 0.126), arrowprops=arrow_kw)
ax.text(152.5, 0.126, 'Load demand reactive power', fontsize=14, va='center', ha='right')
ax.annotate('', xy=(257.8, 0.108), xytext=(273.5, 0.1165), arrowprops=arrow_kw)
ax.text(274, 0.117, 'Q1', fontsize=14, va='center', ha='left')
ax.annotate('', xy=(339.6, 0.0622), xytext=(357.5, 0.0773), arrowprops=arrow_kw)
ax.text(358, 0.0773, 'Q2', fontsize=14, va='center', ha='left')

# (g)
ax = add_ax(1188, 1313, (31, 35), [31, 32, 33, 34, 35], ['31', '32', '33', '34', '35'],
            '(g) Local grid voltage, kV', 1167)
ax.plot(volt_t, volt_v, color=BLUE, lw=2.2)

# (h)
ax = add_ax(1360, 1484, (49, 51), [49, 50, 51], ['49', '50', '51'],
            '(h) Local grid frequency,Hz', 1340, last=True)
ax.plot(freq_t, freq_v, color=BLUE, lw=2.0)
fig.text(1012 / W, 1 - 1506 / H, 'time,s', ha='center', va='center', fontsize=11, color='#333333')

fig.savefig('out.png', dpi=100, facecolor='white')
